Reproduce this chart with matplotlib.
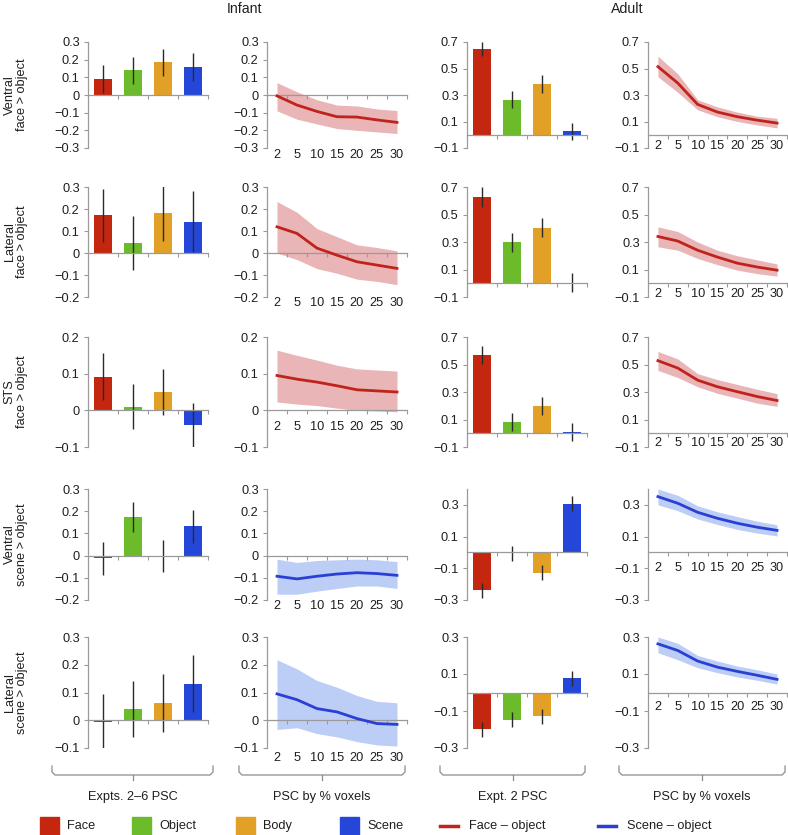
import numpy as np
import matplotlib.pyplot as plt
from matplotlib.lines import Line2D
from matplotlib.patches import Rectangle

plt.rcParams['font.family'] = ['Liberation Sans', 'DejaVu Sans']

W, H = 788, 835

categories = ['Face', 'Object', 'Body', 'Scene']
bar_colors = ['#c4260f', '#6cbb2b', '#e2a126', '#2447d9']
voxel_pct = [2, 5, 10, 15, 20, 25, 30]
row_names = ['Ventral\nface > object', 'Lateral\nface > object', 'STS\nface > object',
             'Ventral\nscene > object', 'Lateral\nscene > object']

# infant, Expts. 2-6 PSC (one list per row)
infant_psc = [[0.09, 0.14, 0.185, 0.16],
              [0.172, 0.045, 0.18, 0.143],
              [0.092, 0.01, 0.049, -0.041],
              [-0.012, 0.173, 0.0, 0.132],
              [-0.006, 0.04, 0.061, 0.132]]
infant_psc_err = [[0.08, 0.075, 0.078, 0.078],
                  [0.12, 0.122, 0.127, 0.137],
                  [0.064, 0.061, 0.063, 0.062],
                  [0.075, 0.068, 0.072, 0.074],
                  [0.1, 0.1, 0.105, 0.104]]

# adult, Expt. 2 PSC
adult_psc = [[0.648, 0.266, 0.384, 0.027],
             [0.63, 0.297, 0.405, 0.005],
             [0.567, 0.083, 0.2, 0.01],
             [-0.239, -0.005, -0.128, 0.307],
             [-0.198, -0.148, -0.128, 0.076]]
adult_psc_err = [[0.055, 0.067, 0.067, 0.065],
                 [0.072, 0.07, 0.07, 0.07],
                 [0.066, 0.066, 0.065, 0.065],
                 [0.049, 0.047, 0.048, 0.048],
                 [0.041, 0.04, 0.04, 0.04]]

# infant, PSC by % voxels (mean and band)
infant_curve = [[-0.005, -0.057, -0.093, -0.123, -0.125, -0.141, -0.155],
                [0.119, 0.089, 0.022, -0.01, -0.04, -0.055, -0.07],
                [0.095, 0.085, 0.077, 0.067, 0.056, 0.053, 0.05],
                [-0.093, -0.105, -0.093, -0.083, -0.077, -0.081, -0.089],
                [0.095, 0.074, 0.042, 0.03, 0.006, -0.012, -0.015]]
infant_curve_lo = [[-0.09, -0.137, -0.164, -0.19, -0.2, -0.209, -0.218],
                   [0.0, -0.03, -0.071, -0.092, -0.119, -0.129, -0.144],
                   [0.023, 0.017, 0.013, 0.006, 0.0, -0.002, -0.004],
                   [-0.174, -0.174, -0.16, -0.148, -0.137, -0.137, -0.148],
                   [-0.033, -0.027, -0.048, -0.06, -0.077, -0.089, -0.093]]
infant_curve_hi = [[0.07, 0.018, -0.027, -0.057, -0.062, -0.079, -0.088],
                   [0.234, 0.185, 0.111, 0.074, 0.037, 0.025, 0.01],
                   [0.164, 0.15, 0.137, 0.123, 0.113, 0.11, 0.107],
                   [-0.016, -0.031, -0.022, -0.019, -0.016, -0.019, -0.027],
                   [0.218, 0.185, 0.143, 0.119, 0.089, 0.068, 0.063]]

# adult, PSC by % voxels
adult_curve = [[0.514, 0.39, 0.229, 0.171, 0.136, 0.11, 0.088],
               [0.34, 0.307, 0.24, 0.19, 0.146, 0.118, 0.095],
               [0.528, 0.474, 0.386, 0.338, 0.302, 0.267, 0.238],
               [0.352, 0.31, 0.253, 0.215, 0.184, 0.159, 0.139],
               [0.263, 0.227, 0.17, 0.137, 0.114, 0.093, 0.071]]
adult_curve_lo = [[0.438, 0.32, 0.188, 0.136, 0.1, 0.074, 0.052],
                  [0.265, 0.24, 0.18, 0.135, 0.095, 0.07, 0.052],
                  [0.457, 0.405, 0.338, 0.29, 0.255, 0.219, 0.195],
                  [0.3, 0.263, 0.211, 0.176, 0.145, 0.122, 0.104],
                  [0.215, 0.177, 0.134, 0.107, 0.084, 0.066, 0.045]]
adult_curve_hi = [[0.593, 0.46, 0.264, 0.21, 0.171, 0.14, 0.124],
                  [0.41, 0.376, 0.3, 0.24, 0.2, 0.17, 0.14],
                  [0.595, 0.54, 0.433, 0.39, 0.355, 0.32, 0.288],
                  [0.4, 0.36, 0.294, 0.256, 0.226, 0.197, 0.174],
                  [0.3, 0.266, 0.2, 0.17, 0.143, 0.123, 0.1]]

infant_ylims = [(-0.3, 0.3), (-0.2, 0.3), (-0.1, 0.2), (-0.2, 0.3), (-0.1, 0.3)]
adult_ylims = [(-0.1, 0.7), (-0.1, 0.7), (-0.1, 0.7), (-0.3, 0.4), (-0.3, 0.3)]
adult_yticks = [[-0.1, 0.1, 0.3, 0.5, 0.7]] * 3 + [[-0.3, -0.1, 0.1, 0.3]] * 2
# where the x labels of the line panels sit: 'low' = under the axes, 'axis' = under zero line
infant_label_pos = ['low', 'low', 'axis', 'low', 'low']
infant_label_gap = [1, 0, 11, 0, 4]   # px
adult_label_gap = [5, 5, 4, 10, 8]    # px below the zero line

rows_px = [(42, 148), (187, 297), (337, 447), (489, 600), (637, 748)]
cols_px = [(88, 208), (267, 407), (467, 587), (648, 787)]

GRAY = '#9a9a9a'
TXT = '#1e1e1e'
FS = 9.2


def fmt(v):
    if abs(v) < 1e-9:
        return '0'
    return f'{v:.1f}'.replace('-', '\u2212')


def px_box(c, r):
    x0, x1 = cols_px[c]
    y0, y1 = rows_px[r]
    return [x0 / W, 1 - y1 / H, (x1 - x0) / W, (y1 - y0) / H]


def style(ax, ylim, yticks, n):
    ax.set_xlim(-0.5, n - 0.5)
    ax.set_ylim(*ylim)
    ax.set_yticks(yticks)
    ax.set_yticklabels([fmt(v) for v in yticks])
    for s in ['top', 'right']:
        ax.spines[s].set_visible(False)
    ax.spines['bottom'].set_position(('data', 0))
    for s in ['left', 'bottom']:
        ax.spines[s].set_color(GRAY)
        ax.spines[s].set_linewidth(0.9)
    ax.set_xticks([])
    ax.set_xticks(np.arange(n) + 0.5, minor=True)
    ax.tick_params(axis='x', which='minor', direction='out', length=3, color=GRAY, width=0.8)
    ax.tick_params(axis='y', direction='out', length=3, color=GRAY, width=0.8,
                   labelsize=FS, labelcolor=TXT, pad=3)
    ax.patch.set_alpha(0)


def bar_panel(ax, vals, errs, ylim, yticks):
    x = np.arange(len(categories))
    ax.bar(x, vals, width=0.57, color=bar_colors, yerr=errs,
           error_kw=dict(ecolor='#2a2a2a', elinewidth=1, capsize=0), zorder=2)
    style(ax, ylim, yticks, len(categories))


def line_panel(ax, mean, lo, hi, ylim, yticks, color, band, label_pos, gap):
    x = np.arange(len(voxel_pct))
    ax.fill_between(x, lo, hi, color=band, lw=0, zorder=1)
    ax.plot(x, mean, color=color, lw=2, zorder=3)
    style(ax, ylim, yticks, len(voxel_pct))
    if label_pos == 'low':
        loc = 0.0
    else:
        loc = (0 - ylim[0]) / (ylim[1] - ylim[0])
    sec = ax.secondary_xaxis(loc)
    try:
        sec.set_alignment('bottom')
    except Exception:
        pass
    sec.set_xticks(x, [str(v) for v in voxel_pct])
    sec.tick_params(length=0, pad=gap * 0.72, labelsize=FS, labelcolor=TXT)
    for s in sec.spines.values():
        s.set_visible(False)


fig = plt.figure(figsize=(W / 100, H / 100), dpi=100)

for r in range(5):
    if r < 3:
        lc, bc = '#c0231b', '#e9b5b7'
    else:
        lc, bc = '#2a3fd3', '#bccdf6'
    iy = infant_ylims[r]
    iticks = list(np.round(np.arange(iy[0], iy[1] + 0.001, 0.1), 1))

    ax = fig.add_axes(px_box(0, r))
    bar_panel(ax, infant_psc[r], infant_psc_err[r], iy, iticks)

    ax = fig.add_axes(px_box(1, r))
    line_panel(ax, infant_curve[r], infant_curve_lo[r], infant_curve_hi[r], iy, iticks,
               lc, bc, infant_label_pos[r], infant_label_gap[r])

    ax = fig.add_axes(px_box(2, r))
    bar_panel(ax, adult_psc[r], adult_psc_err[r], adult_ylims[r], adult_yticks[r])

    ax = fig.add_axes(px_box(3, r))
    line_panel(ax, adult_curve[r], adult_curve_lo[r], adult_curve_hi[r], adult_ylims[r],
               adult_yticks[r], lc, bc, 'axis', adult_label_gap[r])

    yc = (rows_px[r][0] + rows_px[r][1]) / 2
    fig.text(16 / W, 1 - yc / H, row_names[r], rotation=90, ha='center', va='center',
             fontsize=FS, color=TXT, linespacing=1.1, multialignment='center')


def P(x, y):
    return x / W, 1 - y / H


fig.text(*P(245, 9), 'Infant', ha='center', va='center', fontsize=10.2, color=TXT)
fig.text(*P(627, 9), 'Adult', ha='center', va='center', fontsize=10.2, color=TXT)

# brackets under each column
brackets = [(52, 213, 'Expts. 2\u20136 PSC'), (239, 405, 'PSC by % voxels'),
            (440, 585, 'Expt. 2 PSC'), (619, 785, 'PSC by % voxels')]
for x0, x1, txt in brackets:
    xc = (x0 + x1) / 2
    pts = [(x0, 766), (x0, 772), (x0 + 3, 775), (x1 - 3, 775), (x1, 772), (x1, 766)]
    xs, ys = zip(*[P(a, b) for a, b in pts])
    fig.add_artist(Line2D(xs, ys, color='#8c8c8c', lw=0.9, transform=fig.transFigure))
    xs, ys = zip(*[P(xc, 775), P(xc, 780)])
    fig.add_artist(Line2D(xs, ys, color='#8c8c8c', lw=0.9, transform=fig.transFigure))
    fig.text(*P(xc, 797), txt, ha='center', va='center', fontsize=FS, color=TXT)

# legend
sq_x = [40, 132, 236, 340]
for cat, col, x in zip(categories, bar_colors, sq_x):
    fig.add_artist(Rectangle(P(x, 835), 19 / W, 18 / H, color=col, transform=fig.transFigure))
    fig.text(*P(x + 27, 826), cat, ha='left', va='center', fontsize=FS, color=TXT)
for x, col, txt in [(440, '#c0231b', 'Face \u2013 object'), (598, '#2a3fd3', 'Scene \u2013 object')]:
    xs, ys = zip(*[P(x, 826), P(x + 18, 826)])
    fig.add_artist(Line2D(xs, ys, color=col, lw=2.5, transform=fig.transFigure))
    fig.text(*P(x + 29, 826), txt, ha='left', va='center', fontsize=FS, color=TXT)

fig.savefig('out.png', dpi=100)
